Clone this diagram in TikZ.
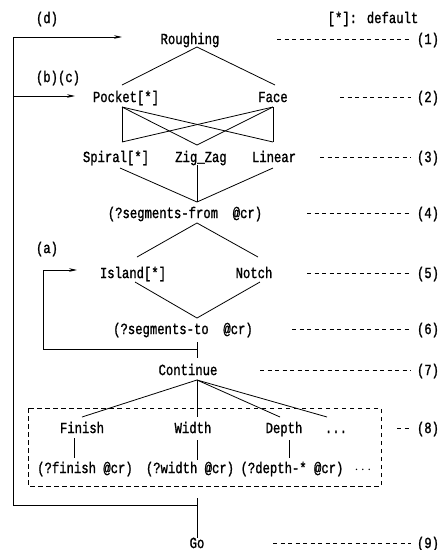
\documentclass[tikz,border=0pt]{standalone}
\usepackage{fontspec}
\newfontfamily\diagfont[FakeStretch=0.79,FakeBold=1.2]{Liberation Mono}
\usetikzlibrary{arrows.meta}
\begin{document}
\begin{tikzpicture}[x=1pt,y=-1pt,
  txt/.style={inner sep=0pt, font=\diagfont\fontsize{15.5}{15.5}\selectfont,
              text height=10.1pt, text depth=0pt},
  wire/.style={line width=0.8pt},
  lvl/.style={line width=0.7pt, dash pattern=on 4pt off 3.5pt, shorten >=6pt},
  jump/.style={wire, -{Stealth[length=8pt,width=3.6pt]}},
  frame/.style={line width=0.7pt, dash pattern=on 4.5pt off 3.5pt}]
\useasboundingbox (0,0) rectangle (445,550);

% ---- text nodes ----
\node[txt] (tagd)   at (47,18)   {(d)};
\node[txt] (legend) at (373,18)  {[*]: default};
\node[txt] (rough)  at (190,39)  {Roughing};
\node[txt] (tagbc)  at (58,77)   {(b)(c)};
\node[txt] (pocket) at (126,97)  {Pocket[*]};
\node[txt] (face)   at (273,97)  {Face};
\node[txt] (spiral) at (116,157) {Spiral[*]};
\node[txt] (zigzag) at (201,157) {Zig\_Zag};
\node[txt] (linear) at (274,157) {Linear};
\node[txt] (segfrom) at (185,213) {(?segments-from\ \ @cr)};
\node[txt] (taga)   at (47,248)  {(a)};
\node[txt] (island) at (133,273) {Island[*]};
\node[txt] (notch)  at (254,273) {Notch};
\node[txt] (segto)  at (183,329) {(?segments-to\ \ @cr)};
\node[txt] (cont)   at (188,370) {Continue};
\node[txt] (finish) at (82,428)  {Finish};
\node[txt] (width)  at (193,428) {Width};
\node[txt] (depth)  at (284,428) {Depth};
\node[txt] (more)   at (336,428) {...};
\node[txt] (qfin)   at (85,468)  {(?finish @cr)};
\node[txt] (qwid)   at (190,468) {(?width @cr)};
\node[txt] (qdep)   at (292,468) {(?depth-* @cr)};
\node[txt] (qmore)  at (363,468) {$\cdots$};
\node[txt] (go)     at (197,543) {Go};

% ---- level numbers ----
\node[txt] (lev1) at (428,39)  {(1)};
\node[txt] (lev2) at (428,97)  {(2)};
\node[txt] (lev3) at (428,157) {(3)};
\node[txt] (lev4) at (428,213) {(4)};
\node[txt] (lev5) at (428,273) {(5)};
\node[txt] (lev6) at (428,329) {(6)};
\node[txt] (lev7) at (428,370) {(7)};
\node[txt] (lev8) at (428,428) {(8)};
\node[txt] (lev9) at (428,543) {(9)};

\coordinate (d1) at (277,39);
\coordinate (d2) at (340,97);
\coordinate (d3) at (320,157);
\coordinate (d4) at (307,213);
\coordinate (d5) at (307,273);
\coordinate (d6) at (292,329);
\coordinate (d7) at (260,370);
\coordinate (d8) at (397,428);
\coordinate (d9) at (273,543);
\foreach \i in {1,...,9} \draw[lvl] (d\i) -- (lev\i.west);

% ---- junction points of the tree ----
\coordinate (rough-s)  at (197,47);
\coordinate (pocket-n) at (122,85);
\coordinate (face-n)   at (275,85);
\coordinate (pocket-s) at (122,107);
\coordinate (face-s)   at (273,107);
\coordinate (spiral-n) at (122,142);
\coordinate (zigzag-n) at (197,145);
\coordinate (linear-n) at (273,142);
\coordinate (spiral-s) at (120,168);
\coordinate (zigzag-s) at (197,165);
\coordinate (linear-s) at (273,168);
\coordinate (segfrom-n) at (197,202);
\coordinate (segfrom-s) at (197,223);
\coordinate (island-n) at (137,257);
\coordinate (notch-n)  at (258,257);
\coordinate (island-s) at (135,282);
\coordinate (notch-s)  at (260,282);
\coordinate (segto-n)  at (197,318);
\coordinate (segto-s)  at (197,342);
\coordinate (cont-n)   at (197,358);
\coordinate (cont-s)   at (197,380);
\coordinate (finish-n) at (82,417);
\coordinate (width-n)  at (197,417);
\coordinate (depth-n)  at (280,417);
\coordinate (more-n)   at (327,417);
\coordinate (finish-s) at (74,438);
\coordinate (qfin-n)   at (74,458);
\coordinate (width-s)  at (197,440);
\coordinate (qwid-n)   at (197,460);
\coordinate (depth-s)  at (289,440);
\coordinate (qdep-n)   at (289,458);
\coordinate (go-n)     at (197,538);
\coordinate (loop-top) at (197,498);

% ---- tree connectors ----
\draw[wire] (pocket-n) -- (rough-s) -- (face-n);
\draw[wire] (pocket-s) -- (spiral-n);
\draw[wire] (pocket-s) -- (zigzag-n);
\draw[wire] (pocket-s) -- (linear-n);
\draw[wire] (face-s) -- (linear-n);
\draw[wire] (face-s) -- (zigzag-n);
\draw[wire] (face-s) -- (spiral-n);
\draw[wire] (spiral-s) -- (segfrom-n) -- (linear-s);
\draw[wire] (zigzag-s) -- (segfrom-n);
\draw[wire] (island-n) -- (segfrom-s) -- (notch-n);
\draw[wire] (island-s) -- (segto-n) -- (notch-s);
\draw[wire] (segto-s) -- (cont-n);
\draw[wire] (cont-s) -- (finish-n);
\draw[wire] (cont-s) -- (width-n);
\draw[wire] (cont-s) -- (depth-n);
\draw[wire] (cont-s) -- (more-n);
\draw[wire] (finish-s) -- (qfin-n);
\draw[wire] (width-s) -- (qwid-n);
\draw[wire] (depth-s) -- (qdep-n);
\draw[wire] (loop-top) -- (go-n);

% ---- parameter group ----
\coordinate (box-nw) at (28,408);
\coordinate (box-se) at (381,486);
\draw[frame] (box-nw) rectangle (box-se);

% ---- return paths ----
\coordinate (ret-d)  at (122,37);
\coordinate (ret-bc) at (75,96);
\coordinate (ret-a)  at (77,270);
\coordinate (left-top) at (13,37);
\coordinate (left-bc)  at (13,96);
\coordinate (left-bot) at (13,505);
\coordinate (a-join)   at (197,349);
\coordinate (a-corner) at (43,349);
\coordinate (a-top)    at (43,270);
\draw[wire] (left-top) -- (left-bot) -| (loop-top);
\draw[jump] (left-top) -- (ret-d);
\draw[jump] (left-bc) -- (ret-bc);
\draw[jump] (a-join) -- (a-corner) -- (a-top) -- (ret-a);
\end{tikzpicture}
\end{document}
